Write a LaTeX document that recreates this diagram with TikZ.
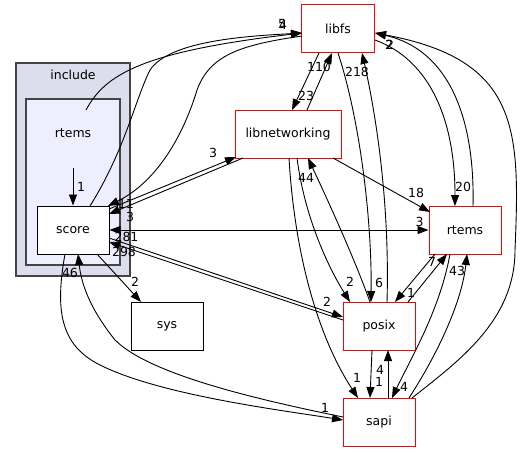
\documentclass[tikz,border=0pt]{standalone}
\usepackage{fontspec}
\setmainfont{DejaVu Sans}
\usetikzlibrary{calc,arrows.meta,positioning}
\definecolor{clusterline}{HTML}{444444}
\definecolor{outerfill}{HTML}{DDDDEE}
\definecolor{innerfill}{HTML}{EEEEFF}

\begin{document}
\begin{tikzpicture}[x=1pt,y=-1pt,
  >={Triangle[length=11pt,width=8pt]},
  every node/.style={font=\fontsize{12.5}{14}\selectfont},
  dirbox/.style={draw=red,fill=white,line width=1pt,minimum width=72pt,minimum height=48pt,inner sep=0pt},
  plainbox/.style={dirbox,draw=black},
  cluster/.style={draw=clusterline,line width=1.3pt},
  dep/.style={->,line width=0.9pt},
  num/.style={inner sep=0pt}]
\useasboundingbox (0,0) rectangle (524,452);
% the include folder with rtems inside
\node[cluster,fill=outerfill,minimum width=114pt,minimum height=213pt] (include) at (73,169.5) {};
\node (includename) at (73,75) {include};
\node[cluster,fill=innerfill,minimum width=94pt,minimum height=166pt] (rtemsdir) at (73,182) {};
\node (rtemsname) at (73,133) {rtems};
\node[plainbox] (score) at (73,230) {score};
% the other folders
\node[dirbox,minimum width=73pt] (libfs) at (338,29) {libfs};
\node[dirbox,minimum width=106pt] (libnet) at (288,134) {libnetworking};
\node[dirbox] (rtems) at (465,230) {rtems};
\node[dirbox] (posix) at (379,326) {posix};
\node[dirbox] (sapi) at (379,422) {sapi};
\node[plainbox] (sys) [left=139pt of posix] {sys};
% from the rtems folder
\draw[dep] ($(rtemsname)+(0,35)$) -- (score.north) node[num,xshift=8pt,yshift=19pt] {1};
\draw[dep] ($(rtemsname)+(13,-23)$) .. controls (105,75) and (140,52) .. ($(libfs)+(-36,4)$) node[num,xshift=-20pt,yshift=9pt] {5};
% score
\draw[dep] ($(score)+(17,-24)$) .. controls (125,150) and (135,100) .. (150,70) .. controls (170,40) and (250,36) .. ($(libfs)+(-36,4)$) node[num,xshift=-19pt,yshift=8pt] {4};
\draw[dep] ($(libfs)+(-36,7)$) .. controls (240,45) and (210,55) .. (197,90) .. controls (185,130) and (160,180) .. ($(score)+(35,-24)$) node[num,xshift=18pt,yshift=2pt] {11};
\draw[dep] ($(score)+(36,-21)$) -- ($(libnet)+(-52,23)$) node[num,xshift=-23pt,yshift=4pt] {3};
\draw[dep] ($(libnet)+(-45,24)$) -- ($(score)+(36,-16)$) node[num,xshift=21pt,yshift=-3pt] {3};
\draw[<->,line width=0.9pt] (score.east) node[num,xshift=17pt,yshift=-7pt] {281} -- (rtems.west) node[num,xshift=-9pt,yshift=8pt] {3};
\draw[dep] ($(score)+(36,8)$) -- ($(posix)+(-36,-9)$) node[num,xshift=-16pt,yshift=15pt] {2};
\draw[dep] ($(posix)+(-36,-6)$) -- ($(score)+(36,12)$) node[num,xshift=15pt,yshift=-10pt] {298};
\draw[dep] ($(score)+(-8,24)$) .. controls (55,310) and (60,345) .. (100,365) .. controls (160,395) and (280,410) .. ($(sapi)+(-36,-2)$) node[num,xshift=-18pt,yshift=12pt] {1};
\draw[dep] ($(sapi)+(-36,-5)$) .. controls (260,400) and (150,375) .. (115,340) .. controls (95,315) and (82,290) .. ($(score)+(5,24)$) node[num,xshift=-8pt,yshift=-19pt] {46};
\draw[dep] ($(score)+(24,24)$) -- ($(sys)+(-26,-24)$) node[num,xshift=-6pt,yshift=20pt] {2};
% libfs and libnetworking
\draw[dep] ($(libfs)+(-19,24)$) -- ($(libnet)+(4,-24)$) node[num,xshift=14pt,yshift=14pt] {23};
\draw[dep] ($(libnet)+(19,-24)$) -- ($(libfs)+(-6,24)$) node[num,xshift=-13pt,yshift=-14pt] {110};
\draw[dep] ($(libnet)+(45,24)$) -- ($(rtems)+(-35,-18)$) node[num,xshift=-14pt,yshift=19pt] {18};
\draw[dep] ($(libnet)+(9,24)$) .. controls (305,220) and (330,270) .. ($(posix)+(-29,-24)$) node[num,xshift=0pt,yshift=20pt] {2};
\draw[dep] ($(posix)+(-9,-24)$) .. controls (355,260) and (330,205) .. ($(libnet)+(20,24)$) node[num,xshift=-2pt,yshift=-20pt] {44};
\draw[dep] ($(libnet)+(1,24)$) .. controls (295,260) and (320,340) .. ($(sapi)+(-21,-24)$) node[num,xshift=-1pt,yshift=20pt] {1};
\draw[dep] ($(libfs)+(0,24)$) .. controls (360,120) and (372,220) .. ($(posix)+(-8,-24)$) node[num,xshift=8pt,yshift=19pt] {6};
\draw[dep] ($(posix)+(8,-24)$) .. controls (390,200) and (375,110) .. ($(libfs)+(24,24)$) node[num,xshift=-5pt,yshift=-19pt] {218};
\draw[dep] ($(libfs)+(37,11)$) .. controls (430,60) and (455,120) .. ($(rtems)+(-10,-24)$) node[num,xshift=8pt,yshift=19pt] {20};
\draw[dep] ($(rtems)+(8,-24)$) .. controls (475,120) and (450,50) .. ($(libfs)+(37,4)$) node[num,xshift=15pt,yshift=-12pt] {2};
\draw[dep] ($(sapi)+(33,-24)$) .. controls (460,360) and (515,320) .. (515,250) .. controls (520,130) and (520,60) .. ($(libfs)+(37,4)$) node[num,xshift=14pt,yshift=-12pt] {2};
% rtems, posix and sapi
\draw[dep] ($(posix)+(29,-24)$) -- ($(rtems)+(-18,24)$) node[num,xshift=-15pt,yshift=-8pt] {7};
\draw[dep] ($(rtems)+(-30,24)$) -- ($(posix)+(16,-24)$) node[num,xshift=16pt,yshift=9pt] {1};
\draw[dep] ($(sapi)+(30,-24)$) .. controls (440,350) and (462,300) .. ($(rtems)+(2,24)$) node[num,xshift=-10pt,yshift=-17pt] {43};
\draw[dep] ($(rtems)+(-15,24)$) .. controls (440,310) and (410,360) .. ($(sapi)+(13,-24)$) node[num,xshift=12pt,yshift=11pt] {4};
\draw[dep] ($(posix)+(-7,24)$) -- ($(sapi)+(-9,-24)$) node[num,xshift=9pt,yshift=16pt] {1};
\draw[dep] ($(sapi)+(9,-24)$) -- ($(posix)+(9,24)$) node[num,xshift=-8pt,yshift=-20pt] {4};
\end{tikzpicture}
\end{document}
